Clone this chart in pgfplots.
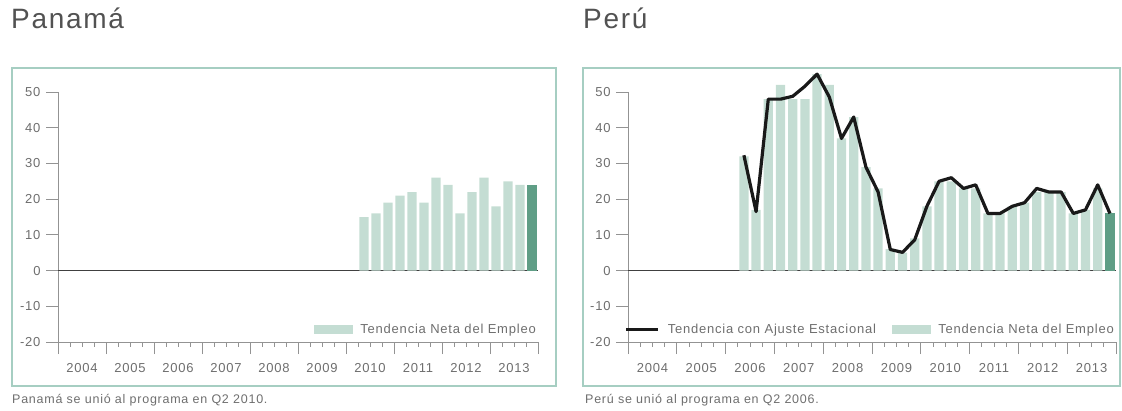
\documentclass[border=0pt]{standalone}
\usepackage{fontspec}
\setmainfont{Liberation Sans}[LetterSpace=6]
\usepackage{pgfplots}
\pgfplotsset{compat=1.18}

\definecolor{barc}{HTML}{C4DDD3}
\definecolor{bardark}{HTML}{5F9E86}
\definecolor{framec}{HTML}{A6CEC2}
\definecolor{txt}{HTML}{6E6E6E}

% net employment outlook, quarter centres at year + .125/.375/.625/.875
\pgfplotstableread{
x y
2010.375 15
2010.625 16
2010.875 19
2011.125 21
2011.375 22
2011.625 19
2011.875 26
2012.125 24
2012.375 16
2012.625 22
2012.875 26
2013.125 18
2013.375 25
2013.625 24
}\panbars

\pgfplotstableread{
x y
2006.375 32
2006.625 17
2006.875 48
2007.125 52
2007.375 48
2007.625 48
2007.875 55
2008.125 52
2008.375 37
2008.625 43
2008.875 29
2009.125 23
2009.375 6
2009.625 5
2009.875 9
2010.125 18
2010.375 25
2010.625 25
2010.875 23
2011.125 23
2011.375 16
2011.625 16
2011.875 18
2012.125 19
2012.375 22
2012.625 22
2012.875 22
2013.125 16
2013.375 17
2013.625 23
}\perbars

\pgfplotstableread{
x y
2006.375 32.3
2006.625 16.5
2006.875 48
2007.125 48
2007.375 48.8
2007.625 51.6
2007.875 55
2008.125 48.6
2008.375 37
2008.625 43
2008.875 29
2009.125 22
2009.375 5.9
2009.625 5.1
2009.875 8.6
2010.125 18
2010.375 25
2010.625 26
2010.875 23
2011.125 24
2011.375 16
2011.625 16
2011.875 18
2012.125 19
2012.375 23
2012.625 22
2012.875 22
2013.125 16
2013.375 17
2013.625 24
2013.875 16
}\perline

\pgfplotsset{
  emp/.style={
    scale only axis, height=250pt,
    xmin=2004, xmax=2014, ymin=-20, ymax=50,
    clip=false,
    axis x line*=bottom, axis y line*=left,
    axis line style={-, draw=gray!85, line width=0.8pt},
    tick align=outside,
    tick style={draw=gray!85, line width=0.8pt},
    % year boundaries: long ticks, no labels
    xtick={2004,2005,2006,2007,2008,2009,2010,2011,2012,2013,2014},
    xticklabels={},
    % year names at mid-year, no tick of their own
    extra x ticks={2004.5,2005.5,2006.5,2007.5,2008.5,2009.5,2010.5,2011.5,2012.5,2013.5},
    extra x tick labels={2004,2005,2006,2007,2008,2009,2010,2011,2012,2013},
    extra x tick style={tick style={draw=none}},
    ytick={-20,-10,...,50},
    major tick length=12pt,
    ticklabel style={font=\fontsize{13}{14}\selectfont, text=txt},
    xticklabel style={yshift=-6pt},
    yticklabel style={xshift=-2pt},
    /pgf/number format/assume math mode=true,
    legend style={draw=none, fill=none, font=\fontsize{13}{14}\selectfont,
      text=txt, anchor=east, at={(1,0.05)}, inner sep=0pt,
      /tikz/every odd column/.append style={column sep=6pt}},
  },
  barswatch/.style={legend image code/.code={
    \fill[barc] (0pt,-4pt) rectangle (38pt,4pt);}},
  lineswatch/.style={legend image code/.code={
    \draw[line width=3.2pt, black!90] (0pt,0pt) -- (32pt,0pt);}},
}
\tikzset{qtick/.style={draw=gray!85, line width=0.8pt}}

\begin{document}
\begin{tikzpicture}[x=1pt,y=1pt]
\useasboundingbox (0,0) rectangle (1122,410);

% titles, frames, notes
\node[anchor=base west, inner sep=0, text=black!68, font=\fontsize{28}{32}\selectfont] at (11,381) {Panamá};
\node[anchor=base west, inner sep=0, text=black!68, font=\fontsize{28}{32}\selectfont] at (583,381) {Perú};
\draw[framec, line width=2pt] (12,24) rectangle (556,342);
\draw[framec, line width=2pt] (583,24) rectangle (1120,342);
\node[anchor=base west, inner sep=0, text=txt, font=\fontsize{12.5}{13}\selectfont] at (12,7) {Panamá se unió al programa en Q2 2010.};
\node[anchor=base west, inner sep=0, text=txt, font=\fontsize{12.5}{13}\selectfont] at (585,7) {Perú se unió al programa en Q2 2006.};

\begin{axis}[emp, width=480pt, anchor=south west, at={(58pt,68pt)}]
  \draw[black!75, line width=0.9pt] (axis cs:2004,0) -- (axis cs:2014,0);
  % short quarter ticks
  \pgfplotsinvokeforeach{2004.25,2004.5,2004.75,2005.25,2005.5,2005.75,2006.25,2006.5,2006.75,
      2007.25,2007.5,2007.75,2008.25,2008.5,2008.75,2009.25,2009.5,2009.75,
      2010.25,2010.5,2010.75,2011.25,2011.5,2011.75,2012.25,2012.5,2012.75,
      2013.25,2013.5,2013.75}{
    \draw[qtick] (axis cs:#1,-20) -- ([yshift=-5pt]axis cs:#1,-20);
  }
  \addplot[ybar, bar width=0.19, bar shift=0pt, fill=barc, draw=none, forget plot] table {\panbars};
  \addplot[ybar, bar width=0.19, bar shift=0pt, fill=bardark, draw=none, forget plot] coordinates {(2013.875,24)};
  \addlegendimage{barswatch}
  \addlegendentry{Tendencia Neta del Empleo}
\end{axis}

\begin{axis}[emp, width=488pt, anchor=south west, at={(628pt,68pt)},
    legend columns=2,
    legend style={/tikz/every even column/.append style={column sep=14pt}}]
  \draw[black!75, line width=0.9pt] (axis cs:2004,0) -- (axis cs:2014,0);
  \pgfplotsinvokeforeach{2004.25,2004.5,2004.75,2005.25,2005.5,2005.75,2006.25,2006.5,2006.75,
      2007.25,2007.5,2007.75,2008.25,2008.5,2008.75,2009.25,2009.5,2009.75,
      2010.25,2010.5,2010.75,2011.25,2011.5,2011.75,2012.25,2012.5,2012.75,
      2013.25,2013.5,2013.75}{
    \draw[qtick] (axis cs:#1,-20) -- ([yshift=-5pt]axis cs:#1,-20);
  }
  \addplot[ybar, bar width=0.19, bar shift=0pt, fill=barc, draw=none, forget plot] table {\perbars};
  \addplot[ybar, bar width=0.19, bar shift=0pt, fill=bardark, draw=none, forget plot] coordinates {(2013.875,16)};
  \addplot[black!90, line width=3.2pt, line join=round, forget plot] table {\perline};
  \addlegendimage{lineswatch}
  \addlegendentry{Tendencia con Ajuste Estacional}
  \addlegendimage{barswatch}
  \addlegendentry{Tendencia Neta del Empleo}
\end{axis}
\end{tikzpicture}
\end{document}
